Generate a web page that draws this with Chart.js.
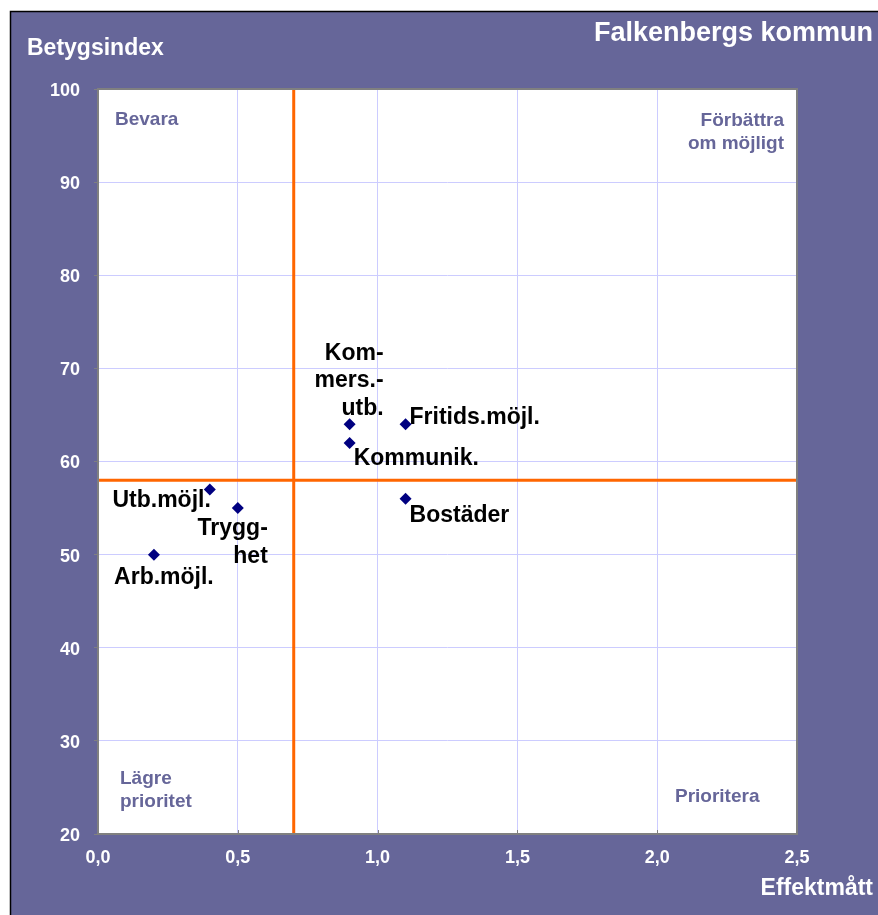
<!DOCTYPE html>
<html>
<head>
<meta charset="utf-8">
<script src="https://cdn.jsdelivr.net/npm/chart.js@4/dist/chart.umd.min.js"></script>
<style>
  html, body { margin: 0; padding: 0; background: #ffffff; }
  canvas { display: block; }
</style>
</head>
<body>
<canvas id="c" width="878" height="915"></canvas>
<script>
// ---- data ----
const pointNames = ['Arb.möjl.', 'Utb.möjl.', 'Trygg-\nhet', 'Kom-\nmers.-\nutb.', 'Kommunik.', 'Fritids.möjl.', 'Bostäder'];
const effektValues = [0.2, 0.4, 0.5, 0.9, 0.9, 1.1, 1.1];
const betygValues = [50, 57, 55, 64, 62, 64, 56];
const thresholdX = 0.7;
const thresholdY = 58;
const xRange = [0, 2.5];
const yRange = [20, 100];
const quadrantNames = ['Bevara', 'Förbättra\nom möjligt', 'Lägre\nprioritet', 'Prioritera'];
const chartTitle = 'Falkenbergs kommun';
const yTitle = 'Betygsindex';
const xTitle = 'Effektmått';

// ---- style ----
const FONT = '"Liberation Sans", Arial, Helvetica, sans-serif';
const PURPLE = '#666699';
const labelPlacement = [
  { align: 'center', dx: 10, dy: 23 },
  { align: 'right', dx: 1, dy: 11 },
  { align: 'right', dx: 30, dy: 21 },
  { align: 'right', dx: 34, dy: -71 },
  { align: 'left', dx: 4, dy: 16 },
  { align: 'left', dx: 4, dy: -7 },
  { align: 'left', dx: 4, dy: 17 }
];

const points = effektValues.map((x, i) => ({ x: x, y: betygValues[i] }));

const framePlugin = {
  id: 'frame',
  beforeDraw(chart) {
    const ctx = chart.ctx, a = chart.chartArea;
    ctx.save();
    ctx.fillStyle = '#ffffff';
    ctx.fillRect(0, 0, chart.width, chart.height);
    ctx.fillStyle = PURPLE;
    ctx.fillRect(10, 11, chart.width - 10, chart.height - 11);
    ctx.strokeStyle = '#000000';
    ctx.lineWidth = 1.5;
    ctx.beginPath();
    ctx.moveTo(10.5, chart.height);
    ctx.lineTo(10.5, 11.5);
    ctx.lineTo(chart.width, 11.5);
    ctx.stroke();
    ctx.fillStyle = '#ffffff';
    ctx.fillRect(a.left, a.top, a.right - a.left, a.bottom - a.top);
    // titles
    ctx.fillStyle = '#ffffff';
    ctx.textBaseline = 'middle';
    ctx.font = 'bold 27px ' + FONT;
    ctx.textAlign = 'right';
    ctx.fillText(chartTitle, 873, 34);
    ctx.font = 'bold 23px ' + FONT;
    ctx.textAlign = 'left';
    ctx.fillText(yTitle, 27, 49);
    ctx.textAlign = 'right';
    ctx.fillText(xTitle, 873, 889);
    ctx.restore();
  },
  afterDatasetsDraw(chart) {
    const ctx = chart.ctx, a = chart.chartArea;
    const xs = chart.scales.x;
    ctx.save();
    // inner x tick marks
    ctx.strokeStyle = '#808080';
    ctx.lineWidth = 1;
    xs.ticks.forEach(t => {
      const px = Math.round(xs.getPixelForValue(t.value)) + 0.5;
      ctx.beginPath();
      ctx.moveTo(px, a.bottom);
      ctx.lineTo(px, a.bottom - 4);
      ctx.stroke();
    });
    // plot border
    ctx.strokeStyle = '#808080';
    ctx.lineWidth = 2;
    ctx.strokeRect(a.left, a.top, a.right - a.left, a.bottom - a.top);
    // quadrant labels
    ctx.fillStyle = PURPLE;
    ctx.font = 'bold 19px ' + FONT;
    ctx.textBaseline = 'middle';
    const q = quadrantNames.map(s => s.split('\n'));
    ctx.textAlign = 'left';
    q[0].forEach((l, i) => ctx.fillText(l, a.left + 17, a.top + 31 + i * 23));
    ctx.textAlign = 'right';
    q[1].forEach((l, i) => ctx.fillText(l, a.right - 13, a.top + 32 + i * 23));
    ctx.textAlign = 'left';
    q[2].forEach((l, i) => ctx.fillText(l, a.left + 22, a.bottom - 55 + i * 23));
    q[3].forEach((l, i) => ctx.fillText(l, a.left + 577, a.bottom - 37 + i * 23));
    // point labels
    const meta = chart.getDatasetMeta(2);
    ctx.fillStyle = '#000000';
    ctx.font = 'bold 23px ' + FONT;
    meta.data.forEach((el, i) => {
      const p = labelPlacement[i];
      ctx.textAlign = p.align;
      pointNames[i].split('\n').forEach((l, j) => {
        ctx.fillText(l, el.x + p.dx, el.y + p.dy + j * 27.5);
      });
    });
    ctx.restore();
  }
};

new Chart(document.getElementById('c'), {
  type: 'scatter',
  data: {
    datasets: [
      {
        type: 'line',
        data: [{ x: thresholdX, y: yRange[0] }, { x: thresholdX, y: yRange[1] }],
        borderColor: '#ff6600', borderWidth: 3, pointRadius: 0, fill: false
      },
      {
        type: 'line',
        data: [{ x: xRange[0], y: thresholdY }, { x: xRange[1], y: thresholdY }],
        borderColor: '#ff6600', borderWidth: 3, pointRadius: 0, fill: false
      },
      {
        data: points,
        pointStyle: 'rectRot',
        pointRadius: 6,
        backgroundColor: '#000080',
        borderColor: '#000080',
        borderWidth: 0
      }
    ]
  },
  options: {
    responsive: false,
    animation: false,
    layout: { padding: { top: 89, right: 81, left: 0, bottom: 0 } },
    plugins: { legend: { display: false }, tooltip: { enabled: false } },
    scales: {
      x: {
        type: 'linear', min: xRange[0], max: xRange[1],
        afterFit(s) { s.height = 81; },
        grid: { color: '#ccccff', lineWidth: 1, drawTicks: false },
        border: { display: false },
        ticks: {
          stepSize: 0.5, padding: 13, color: '#ffffff',
          font: { family: FONT, size: 18, weight: 'bold' },
          callback: v => v.toFixed(1).replace('.', ',')
        }
      },
      y: {
        type: 'linear', min: yRange[0], max: yRange[1],
        afterFit(s) { s.width = 98; },
        grid: { color: '#ccccff', lineWidth: 1, tickColor: '#808080', tickLength: 4 },
        border: { display: false },
        ticks: {
          stepSize: 10, padding: 14, color: '#ffffff', labelOffset: 2,
          font: { family: FONT, size: 18, weight: 'bold' }
        }
      }
    }
  },
  plugins: [framePlugin]
});
</script>
</body>
</html>
